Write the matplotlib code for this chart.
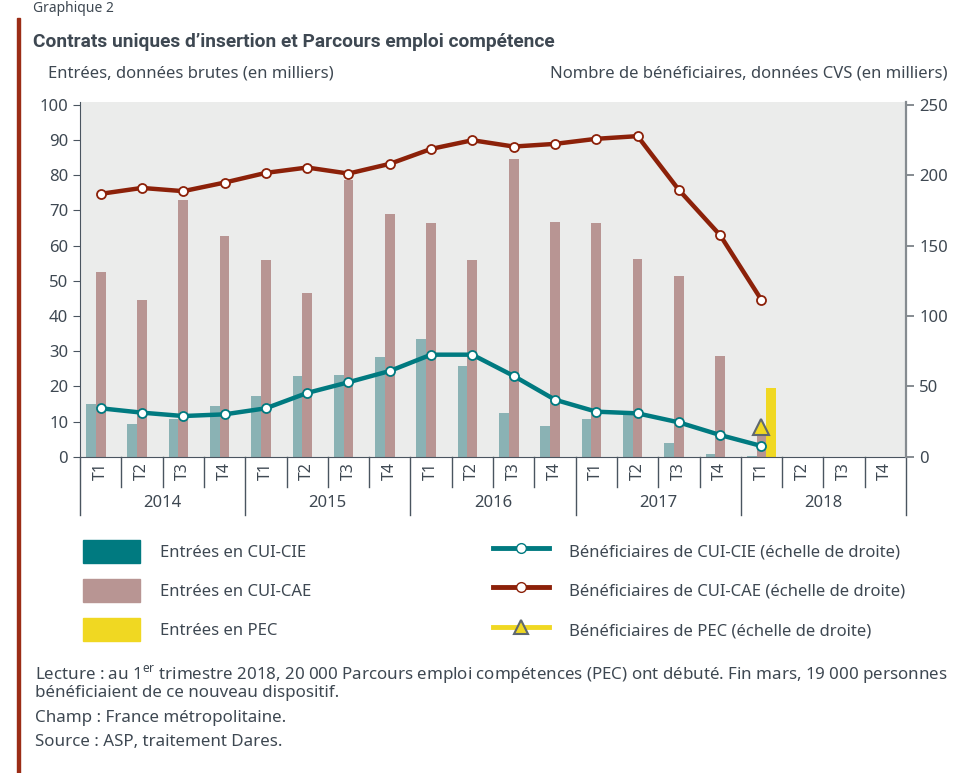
#Purpose: recreate the Dares chart on CUI and PEC contracts (bars + two scales)

import numpy as np
import matplotlib
matplotlib.use("Agg")
from matplotlib import pyplot as plt
from matplotlib.patches import Patch, Rectangle
from matplotlib.lines import Line2D
import matplotlib.transforms as mtransforms

plt.rcParams['font.family'] = ['Noto Sans', 'DejaVu Sans']
plt.rcParams['mathtext.fontset'] = 'custom'
plt.rcParams['mathtext.rm'] = 'Noto Sans'

#data (thousands)
years = ['2014', '2015', '2016', '2017', '2018']
quarters = ['T1', 'T2', 'T3', 'T4']
entrees_cie = [15.0, 9.2, 10.6, 14.4, 17.3, 23.0, 23.3, 28.3, 33.5, 25.7,
               12.5, 8.6, 10.6, 11.9, 3.8, 0.9, 0.3]
entrees_cae = [52.4, 44.6, 72.9, 62.8, 55.8, 46.4, 78.7, 69.1, 66.5, 55.8,
               84.6, 66.8, 66.5, 56.1, 51.3, 28.5, 7.6]
entrees_pec = [19.6]
benef_cie = [34.4, 31.3, 28.9, 30.1, 34.4, 45.3, 52.9, 60.9, 72.5, 72.5,
             57.4, 40.5, 32.0, 30.8, 24.4, 15.4, 7.6]
benef_cae = [186.8, 191.0, 188.7, 194.8, 201.7, 205.5, 201.2, 208.1, 218.7, 224.9,
             220.4, 222.3, 225.9, 227.8, 189.6, 157.4, 111.4]
benef_pec = [21.0]

#colours
c_cie_bar = '#8ab2b4'
c_cie = '#007a80'
c_cae_bar = '#b89593'
c_cae = '#8c2109'
c_pec = '#f0d822'
c_text = '#3e4852'
c_axis = '#4a5560'

W, H = 958, 773
fig = plt.figure(figsize=(W / 100, H / 100), dpi=100)

def fx(px):
    return px / W

def fy(py):
    return 1 - py / H

#plot area
x0, x1, ybot, ytop = 80, 906, 456.7, 101.5
ax = fig.add_axes([fx(x0), fy(ybot), fx(x1 - x0), (ybot - ytop) / H])
ax2 = ax.twinx()
ax.set_facecolor('#ebeceb')
ax2.patch.set_visible(False)

n_q = len(years) * len(quarters)
x = np.arange(len(entrees_cie))
bw = 0.235
ax.bar(x - 0.235, entrees_cie, width=bw, color=c_cie_bar, zorder=2)
ax.bar(x, entrees_cae, width=bw, color=c_cae_bar, zorder=2)
x_pec = np.arange(16, 16 + len(entrees_pec))
ax.bar(x_pec + 0.23, entrees_pec, width=bw, color=c_pec, zorder=2)

ax2.plot(x, benef_cie, color=c_cie, lw=3.2, marker='o', ms=6.5,
         mfc='white', mec=c_cie, mew=1.3, zorder=3)
ax2.plot(x, benef_cae, color=c_cae, lw=3.2, marker='o', ms=6.5,
         mfc='white', mec=c_cae, mew=1.3, zorder=3)
ax2.plot(x_pec, benef_pec, ls='none', marker='^', ms=11,
         mfc=c_pec, mec='#5f6870', mew=1.5, zorder=4)

scale = (ybot - ytop) / (ybot - 104.9)
ax.set_xlim(-0.5, n_q - 0.5)
ax.set_ylim(0, 100 * scale)
ax2.set_ylim(0, 250 * scale)
ax.set_yticks(range(0, 101, 10))
ax2.set_yticks(range(0, 251, 50))
ax.set_xticks([])

for a in (ax, ax2):
    a.spines['top'].set_visible(False)
ax.spines['left'].set_color(c_axis)
ax.spines['bottom'].set_color(c_axis)
ax.spines['right'].set_visible(False)
ax2.spines['left'].set_visible(False)
ax2.spines['bottom'].set_visible(False)
ax2.spines['right'].set_color('#858b90')
ax2.spines['right'].set_linewidth(1.6)
ax.tick_params(axis='y', colors=c_text, labelsize=12, length=5, color=c_axis)
ax2.tick_params(axis='y', colors=c_text, labelsize=12, length=6, color='#858b90', width=1.4)

#quarter and year labels under the axis
trans = mtransforms.blended_transform_factory(ax.transData, ax.transAxes)
h = ybot - ytop
q_end = -(487 - ybot) / h
y_end = -(515 - ybot) / h
for i in range(n_q):
    ax.text(i, -(471 - ybot) / h, quarters[i % 4], rotation=90, ha='center',
            va='center', fontsize=11.5, color=c_text, transform=trans)
for i in range(n_q + 1):
    end = y_end if i % 4 == 0 else q_end
    ax.plot([i - 0.5, i - 0.5], [0, end], color=c_axis, lw=1,
            transform=trans, clip_on=False)
for k, yr in enumerate(years):
    ax.text(4 * k + 1.5, -(503 - ybot) / h, yr, ha='center', va='center',
            fontsize=12, color=c_text, transform=trans)

#titles
fig.text(fx(33), fy(12), 'Graphique 2', fontsize=10, color=c_text, va='baseline')
fig.text(fx(33), fy(42), 'Contrats uniques d\u2019insertion et Parcours emploi compétence',
         fontsize=13.8, fontweight='bold', color=c_text, va='center',
         family=['Liberation Sans Narrow', 'Roboto', 'DejaVu Sans'])
fig.text(fx(48), fy(73), 'Entrées, données brutes (en milliers)', fontsize=12,
         color=c_text, va='center')
fig.text(fx(948), fy(73), 'Nombre de bénéficiaires, données CVS (en milliers)',
         fontsize=12, color=c_text, va='center', ha='right')

#left red rule
fig.add_artist(Rectangle((fx(17), 0.0), fx(3), fy(18), color='#9b2d16',
                         transform=fig.transFigure))

#legend
handles = [
    Patch(color=c_cie),
    Patch(color=c_cae_bar),
    Patch(color=c_pec),
    Line2D([], [], color=c_cie, lw=3.5, marker='o', ms=7, mfc='white', mec=c_cie),
    Line2D([], [], color=c_cae, lw=3.5, marker='o', ms=7, mfc='white', mec=c_cae),
    Line2D([], [], color=c_pec, lw=3.5, marker='^', ms=10, mfc=c_pec, mec='#5f6870', mew=1.5),
]
labels = ['Entrées en CUI-CIE', 'Entrées en CUI-CAE', 'Entrées en PEC',
          'Bénéficiaires de CUI-CIE (échelle de droite)',
          'Bénéficiaires de CUI-CAE (échelle de droite)',
          'Bénéficiaires de PEC (échelle de droite)']
leg = fig.legend(handles, labels, ncol=2, loc='upper left',
                 bbox_to_anchor=(fx(83), fy(540)), frameon=False, fontsize=12,
                 handlelength=3.4, handleheight=1.7, handletextpad=1.2,
                 columnspacing=10.9, labelspacing=1.0, borderpad=0,
                 borderaxespad=0, numpoints=1)
for t in leg.get_texts():
    t.set_color(c_text)

#notes
notes = [
    (675, 'Lecture : au 1$^{\\mathrm{er}}$ trimestre 2018, 20 000 Parcours emploi compétences (PEC) ont débuté. Fin mars, 19 000 personnes'),
    (693, 'bénéficiaient de ce nouveau dispositif.'),
    (718, 'Champ : France métropolitaine.'),
    (742, 'Source : ASP, traitement Dares.'),
]
for py, txt in notes:
    fig.text(fx(35), fy(py), txt, fontsize=12.2, color=c_text, va='center')

fig.savefig('out.png', dpi=100)
